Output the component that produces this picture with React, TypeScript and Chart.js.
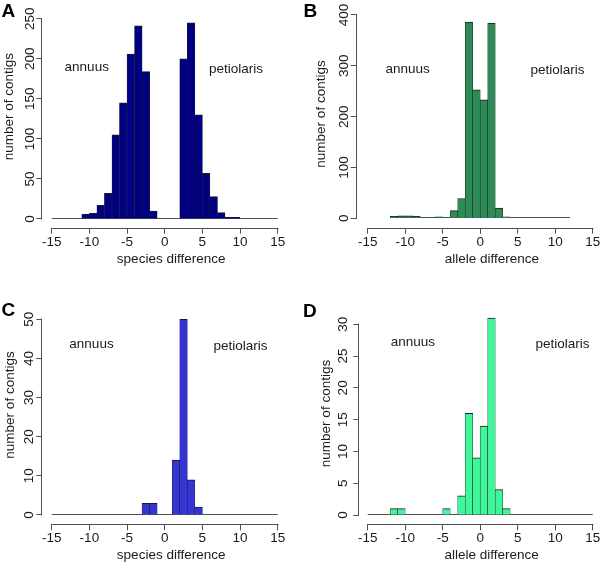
import React, { useEffect, useRef } from 'react';
import { Chart, registerables } from 'chart.js';

Chart.register(...registerables);

// ---------- data (unit-width histogram bins, counts start at the first break) ----------
const speciesAllBreakStart = -15;
const speciesAllCounts = [0, 0, 0, 0, 6, 7, 17, 32, 105, 145, 206, 241, 184, 10, 0, 0, 0, 200, 245, 130, 57, 28, 8, 2, 2, 0, 0, 0, 0, 0];

const alleleAllBreakStart = -12;
const alleleAllCounts = [4, 5, 5, 4, 1, 2, 3, 2, 15, 39, 386, 253, 233, 384, 20, 3, 0, 0, 0, 0, 0, 0, 0, 0];

const speciesSubBreakStart = -15;
const speciesSubCounts = [0, 0, 0, 0, 0, 0, 0, 0, 0, 0, 0, 0, 3, 3, 0, 0, 14, 50, 9, 2, 0, 0, 0, 0, 0, 0, 0, 0, 0, 0];

const alleleSubBreakStart = -15;
const alleleSubCounts = [0, 0, 0, 1, 1, 0, 0, 0, 0, 0, 1, 0, 3, 16, 9, 14, 31, 4, 1, 0, 0, 0, 0, 0, 0, 0, 0, 0, 0, 0];

const xTicks = [-15, -10, -5, 0, 5, 10, 15];
const yTicksA = [0, 50, 100, 150, 200, 250];
const yTicksB = [0, 100, 200, 300, 400];
const yTicksC = [0, 10, 20, 30, 40, 50];
const yTicksD = [0, 5, 10, 15, 20, 25, 30];

const panelLetters = ['A', 'B', 'C', 'D'];
const xTitleSpecies = 'species difference';
const xTitleAllele = 'allele difference';
const yTitle = 'number of contigs';
const groupLeft = 'annuus';
const groupRight = 'petiolaris';

// ---------- styles ----------
const FONT_FAMILY = '"Liberation Sans", Arial, sans-serif';
const FONT_SIZE = 13.5;
const LINE_H = 1.2;
const TICK_LEN = 6;
const AXIS_COLOR = '#505050';
const TEXT_COLOR = '#1a1a1a';
const BAR_BORDER = '#1e1e1e';

type Spec = {
  letter: string;
  counts: number[];
  breakStart: number;
  fill: string;
  xTitle: string;
  yTicks: number[];
  canvas: { left: number; top: number; w: number; h: number };
  area: { left: number; top: number; bottom: number };
  x: { min: number; max: number };
  y: { min: number; max: number };
  yLabelOffset: number;
  yTitleX: number;
  letterPos: { x: number; y: number };
  notes: { text: string; x: number; y: number }[];
};

const panels: Spec[] = [
  {
    letter: panelLetters[0], counts: speciesAllCounts, breakStart: speciesAllBreakStart, fill: '#000080',
    xTitle: xTitleSpecies, yTicks: yTicksA,
    canvas: { left: 0, top: -20, w: 300, h: 301 },
    area: { left: 42.3, top: -14.3, bottom: 227.7 },
    x: { min: -16.25, max: 17.96 }, y: { min: -10.86, max: 291.2 },
    yLabelOffset: 12.3, yTitleX: 9, letterPos: { x: 1.5, y: 16.7 },
    notes: [{ text: groupLeft, x: -10.35, y: 188.8 }, { text: groupRight, x: 9.47, y: 187.2 }],
  },
  {
    letter: panelLetters[1], counts: alleleAllCounts, breakStart: alleleAllBreakStart, fill: '#2e8b57',
    xTitle: xTitleAllele, yTicks: yTicksB,
    canvas: { left: 300, top: -20, w: 327, h: 301 },
    area: { left: 356.7, top: 0.3, bottom: 227.7 },
    x: { min: -16.47, max: 19.57 }, y: { min: -18.49, max: 428.9 },
    yLabelOffset: 12, yTitleX: 321.7, letterPos: { x: 303.5, y: 16.7 },
    notes: [{ text: groupLeft, x: -9.69, y: 293.7 }, { text: groupRight, x: 10.31, y: 291.8 }],
  },
  {
    letter: panelLetters[2], counts: speciesSubCounts, breakStart: speciesSubBreakStart, fill: '#3535d6',
    xTitle: xTitleSpecies, yTicks: yTicksC,
    canvas: { left: 0, top: 281, w: 300, h: 297 },
    area: { left: 42.3, top: 285.7, bottom: 524.3 },
    x: { min: -16.25, max: 17.96 }, y: { min: -2.376, max: 58.58 },
    yLabelOffset: 12.6, yTitleX: 10, letterPos: { x: 1.5, y: 316 },
    notes: [{ text: groupLeft, x: -9.72, y: 43.6 }, { text: groupRight, x: 10.06, y: 43.2 }],
  },
  {
    letter: panelLetters[3], counts: alleleSubCounts, breakStart: alleleSubBreakStart, fill: '#40f59a',
    xTitle: xTitleAllele, yTicks: yTicksD,
    canvas: { left: 300, top: 281, w: 324, h: 297 },
    area: { left: 359.3, top: 302.7, bottom: 524.3 },
    x: { min: -16.12, max: 19.17 }, y: { min: -1.463, max: 33.4 },
    yLabelOffset: 15.6, yTitleX: 326, letterPos: { x: 303, y: 317 },
    notes: [{ text: groupLeft, x: -8.99, y: 27.1 }, { text: groupRight, x: 10.97, y: 26.9 }],
  },
];

const fontString = `${FONT_SIZE}px ${FONT_FAMILY}`;

function widestLabel(values: number[]): number {
  const c = document.createElement('canvas').getContext('2d')!;
  c.font = fontString;
  return Math.max(...values.map((v) => c.measureText(String(v)).width));
}

function makePlugin(spec: Spec) {
  return {
    id: 'rstyle',
    beforeDatasetsDraw(chart: any) {
      const { ctx } = chart;
      const x = chart.scales.x;
      const y = chart.scales.y;
      const y0 = Math.round(y.getPixelForValue(0)) - 0.5;
      ctx.save();
      ctx.strokeStyle = AXIS_COLOR;
      ctx.lineWidth = 1;
      ctx.beginPath();
      ctx.moveTo(x.getPixelForValue(spec.breakStart), y0);
      ctx.lineTo(x.getPixelForValue(spec.breakStart + spec.counts.length), y0);
      ctx.stroke();
      ctx.restore();
    },
    afterDraw(chart: any) {
      const { ctx, chartArea } = chart;
      const x = chart.scales.x;
      const y = chart.scales.y;
      ctx.save();
      ctx.strokeStyle = AXIS_COLOR;
      ctx.lineWidth = 1;
      // y axis (only over the tick range)
      const ax = Math.round(chartArea.left) - 0.5;
      const yt0 = y.getPixelForValue(spec.yTicks[0]);
      const yt1 = y.getPixelForValue(spec.yTicks[spec.yTicks.length - 1]);
      ctx.beginPath();
      ctx.moveTo(ax, Math.round(yt0) + 0.5);
      ctx.lineTo(ax, Math.round(yt1) - 0.5);
      ctx.stroke();
      // x axis
      const ay = Math.round(chartArea.bottom) + 0.5;
      ctx.beginPath();
      ctx.moveTo(Math.round(x.getPixelForValue(xTicks[0])) - 0.5, ay);
      ctx.lineTo(Math.round(x.getPixelForValue(xTicks[xTicks.length - 1])) + 0.5, ay);
      ctx.stroke();
      // group annotations
      ctx.fillStyle = TEXT_COLOR;
      ctx.font = fontString;
      ctx.textAlign = 'center';
      ctx.textBaseline = 'middle';
      spec.notes.forEach((n) => {
        ctx.fillText(n.text, x.getPixelForValue(n.x), y.getPixelForValue(n.y));
      });
      // panel letter
      ctx.fillStyle = '#000';
      ctx.font = `bold 19px ${FONT_FAMILY}`;
      ctx.textAlign = 'left';
      ctx.textBaseline = 'alphabetic';
      ctx.fillText(spec.letter, spec.letterPos.x - spec.canvas.left, spec.letterPos.y - spec.canvas.top);
      ctx.restore();
    },
  };
}

function Panel({ spec }: { spec: Spec }) {
  const ref = useRef<HTMLCanvasElement>(null);
  useEffect(() => {
    const canvas = ref.current;
    if (!canvas) return;
    const lh = FONT_SIZE * LINE_H;
    const leftW = spec.area.left - spec.canvas.left;
    const topPad = spec.area.top - spec.canvas.top;
    const xH = spec.canvas.top + spec.canvas.h - spec.area.bottom;
    const xTitlePadBottom = xH - 31.3 - lh / 2;
    const yTitlePadTop = spec.yTitleX - spec.canvas.left - lh / 2;
    const yTickPad = spec.yLabelOffset - TICK_LEN - widestLabel(spec.yTicks) / 2;
    const xTickPad = 14.3 - TICK_LEN - lh / 2;
    const font = { family: FONT_FAMILY, size: FONT_SIZE, lineHeight: LINE_H };

    const data = spec.counts.map((c, i) => ({ x: spec.breakStart + i + 0.5, y: c }));

    const chart = new Chart(canvas, {
      type: 'bar',
      data: {
        datasets: [
          {
            data,
            backgroundColor: spec.fill,
            borderColor: BAR_BORDER,
            borderWidth: { top: 1, left: 0.5, right: 0.5, bottom: 0 },
            borderSkipped: 'start',
            barPercentage: 1,
            categoryPercentage: 1,
          } as any,
        ],
      },
      options: {
        animation: false,
        responsive: false,
        maintainAspectRatio: false,
        devicePixelRatio: 1,
        events: [],
        layout: { padding: { left: 0, top: topPad, right: 0, bottom: 0 } },
        plugins: { legend: { display: false }, tooltip: { enabled: false }, title: { display: false } },
        scales: {
          x: {
            type: 'linear',
            position: 'bottom',
            min: spec.x.min,
            max: spec.x.max,
            offset: false,
            afterBuildTicks: (s: any) => {
              s.ticks = xTicks.map((v) => ({ value: v }));
            },
            afterFit: (s: any) => {
              s.height = xH;
              s.paddingLeft = 0;
              s.paddingRight = 0;
            },
            grid: { display: true, offset: false, drawOnChartArea: false, drawTicks: true, tickLength: TICK_LEN, color: AXIS_COLOR, lineWidth: 1 },
            border: { display: false },
            ticks: { color: TEXT_COLOR, font, padding: xTickPad, minRotation: 0, maxRotation: 0, autoSkip: false },
            title: { display: true, text: spec.xTitle, color: TEXT_COLOR, font, padding: { top: 0, bottom: xTitlePadBottom } },
          },
          y: {
            type: 'linear',
            position: 'left',
            min: spec.y.min,
            max: spec.y.max,
            afterBuildTicks: (s: any) => {
              s.ticks = spec.yTicks.map((v) => ({ value: v }));
            },
            afterFit: (s: any) => {
              s.width = leftW;
              s.paddingTop = 0;
              s.paddingBottom = 0;
            },
            grid: { display: true, offset: false, drawOnChartArea: false, drawTicks: true, tickLength: TICK_LEN, color: AXIS_COLOR, lineWidth: 1 },
            border: { display: false },
            ticks: { color: TEXT_COLOR, font, padding: yTickPad, minRotation: 90, maxRotation: 90, crossAlign: 'center', autoSkip: false },
            title: { display: true, text: yTitle, color: TEXT_COLOR, font, padding: { top: yTitlePadTop, bottom: 0 } },
          },
        },
      } as any,
      plugins: [makePlugin(spec)],
    });
    return () => chart.destroy();
  }, [spec]);

  return (
    <canvas
      ref={ref}
      width={spec.canvas.w}
      height={spec.canvas.h}
      style={{
        position: 'absolute',
        left: spec.canvas.left,
        top: spec.canvas.top,
        width: spec.canvas.w,
        height: spec.canvas.h,
        display: 'block',
      }}
    />
  );
}

export default function App() {
  return (
    <div
      style={{
        position: 'fixed',
        left: 0,
        top: 0,
        width: 600,
        height: 562,
        overflow: 'hidden',
        background: '#ffffff',
      }}
    >
      {panels.map((p) => (
        <Panel key={p.letter} spec={p} />
      ))}
    </div>
  );
}
